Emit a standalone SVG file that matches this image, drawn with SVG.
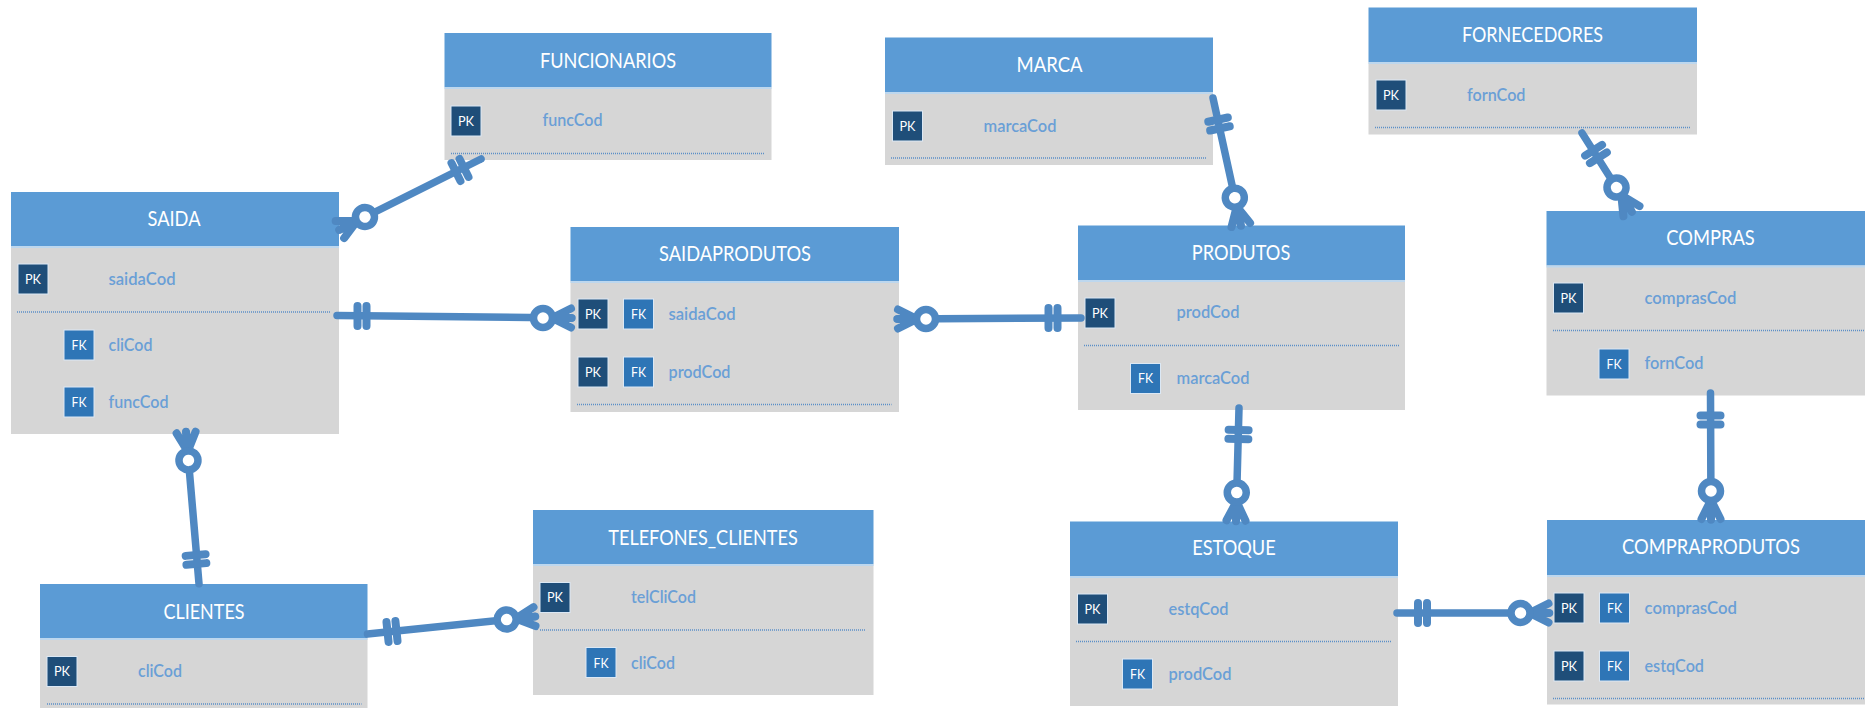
<svg xmlns="http://www.w3.org/2000/svg" width="1865" height="708" viewBox="0 0 1865 708">
<style>
.b{fill:#d6d6d6}
.h{fill:#5b9bd5}
.s{stroke:#bdd7ee;stroke-width:2;fill:none}
.d{stroke:#5b8fc7;stroke-width:1.5;stroke-dasharray:1 1;fill:none}
.pk{fill:#1f4e79;stroke:#dbe8f5;stroke-width:1}
.fk{fill:#2e75b6;stroke:#dbe8f5;stroke-width:1}
.bt{font:14px Lato,"Liberation Sans",sans-serif;fill:#fff;text-anchor:middle;dominant-baseline:central}
.t{font:21px Lato,"Liberation Sans",sans-serif;fill:#fff;text-anchor:middle;dominant-baseline:central}
.f{font:600 17px Lato,"Liberation Sans",sans-serif;fill:#6a9fd6;dominant-baseline:central}
.c{stroke:#4f88c2;stroke-width:7.5;fill:none;stroke-linecap:round}
</style>
<defs>
<g id="crow"><path d="M1,-9.5 L20,0 M1,0 L20,0 M1,9.5 L20,0" style="stroke-width:8"/><circle cx="29" cy="0" r="9.5" fill="#fff" style="stroke-width:7.5"/></g>
<g id="bars"><path d="M-4.5,-10 V10 M4.5,-10 V10" style="stroke-width:8"/></g>
</defs>
<g id="funcionarios">
<rect class="b" x="444.5" y="87" width="327" height="73"/><rect class="h" x="444.5" y="33" width="327" height="54"/><path class="s" d="M444.5,88H771.5"/>
<text class="t" x="608" y="59" textLength="136" lengthAdjust="spacingAndGlyphs">FUNCIONARIOS</text>
<rect class="pk" x="451" y="106" width="30" height="30"/><text class="bt" x="466" y="120" textLength="16" lengthAdjust="spacingAndGlyphs">PK</text>
<text class="f" x="542.5" y="119.5" textLength="60" lengthAdjust="spacingAndGlyphs">funcCod</text>
<path class="d" d="M451,153.5H764"/>
</g>
<g id="saida">
<rect class="b" x="11" y="246" width="328" height="188"/><rect class="h" x="11" y="192" width="328" height="54"/><path class="s" d="M11,247H339"/>
<text class="t" x="174" y="217.5" textLength="53" lengthAdjust="spacingAndGlyphs">SAIDA</text>
<rect class="pk" x="18" y="264" width="30" height="30"/><text class="bt" x="33" y="278.5" textLength="16" lengthAdjust="spacingAndGlyphs">PK</text>
<text class="f" x="108.5" y="278" textLength="67" lengthAdjust="spacingAndGlyphs">saidaCod</text>
<path class="d" d="M17,312H331"/>
<rect class="fk" x="64" y="330" width="30" height="30"/><text class="bt" x="79" y="344" textLength="15" lengthAdjust="spacingAndGlyphs">FK</text>
<text class="f" x="108.5" y="344" textLength="44" lengthAdjust="spacingAndGlyphs">cliCod</text>
<rect class="fk" x="64" y="387" width="30" height="30"/><text class="bt" x="79" y="401.5" textLength="15" lengthAdjust="spacingAndGlyphs">FK</text>
<text class="f" x="108.5" y="401.5" textLength="60" lengthAdjust="spacingAndGlyphs">funcCod</text>
</g>
<g id="saidaprodutos">
<rect class="b" x="570.5" y="281" width="328.5" height="131"/><rect class="h" x="570.5" y="227" width="328.5" height="54"/><path class="s" d="M570.5,282H899"/>
<text class="t" x="735" y="252.5" textLength="152" lengthAdjust="spacingAndGlyphs">SAIDAPRODUTOS</text>
<rect class="pk" x="578" y="299" width="30" height="30"/><text class="bt" x="593" y="313" textLength="16" lengthAdjust="spacingAndGlyphs">PK</text>
<rect class="fk" x="623.5" y="299" width="30" height="30"/><text class="bt" x="638.5" y="313" textLength="15" lengthAdjust="spacingAndGlyphs">FK</text>
<text class="f" x="668.5" y="313" textLength="67" lengthAdjust="spacingAndGlyphs">saidaCod</text>
<rect class="pk" x="578" y="357" width="30" height="30"/><text class="bt" x="593" y="371" textLength="16" lengthAdjust="spacingAndGlyphs">PK</text>
<rect class="fk" x="623.5" y="357" width="30" height="30"/><text class="bt" x="638.5" y="371" textLength="15" lengthAdjust="spacingAndGlyphs">FK</text>
<text class="f" x="668.5" y="371" textLength="62" lengthAdjust="spacingAndGlyphs">prodCod</text>
<path class="d" d="M577,404.5H891.5"/>
</g>
<g id="marca">
<rect class="b" x="885" y="92" width="328" height="73"/><rect class="h" x="885" y="37.5" width="328" height="54.5"/><path class="s" d="M885,93H1213"/>
<text class="t" x="1049.5" y="63" textLength="66" lengthAdjust="spacingAndGlyphs">MARCA</text>
<rect class="pk" x="892.5" y="111" width="30" height="30"/><text class="bt" x="907.5" y="125" textLength="16" lengthAdjust="spacingAndGlyphs">PK</text>
<text class="f" x="983.5" y="125" textLength="73" lengthAdjust="spacingAndGlyphs">marcaCod</text>
<path class="d" d="M891,158H1206.5"/>
</g>
<g id="fornecedores">
<rect class="b" x="1368.5" y="62" width="328.5" height="72.5"/><rect class="h" x="1368.5" y="7.5" width="328.5" height="54.5"/><path class="s" d="M1368.5,63H1697"/>
<text class="t" x="1532.5" y="33.5" textLength="141" lengthAdjust="spacingAndGlyphs">FORNECEDORES</text>
<rect class="pk" x="1376" y="80" width="30" height="30"/><text class="bt" x="1391" y="94" textLength="16" lengthAdjust="spacingAndGlyphs">PK</text>
<text class="f" x="1467" y="94" textLength="58.5" lengthAdjust="spacingAndGlyphs">fornCod</text>
<path class="d" d="M1375,127.5H1690"/>
</g>
<g id="produtos">
<rect class="b" x="1078" y="280" width="327" height="130"/><rect class="h" x="1078" y="225.5" width="327" height="54.5"/><path class="s" d="M1078,281H1405"/>
<text class="t" x="1241" y="251" textLength="98.5" lengthAdjust="spacingAndGlyphs">PRODUTOS</text>
<rect class="pk" x="1085" y="298" width="30" height="30"/><text class="bt" x="1100" y="312" textLength="16" lengthAdjust="spacingAndGlyphs">PK</text>
<text class="f" x="1176.5" y="311.5" textLength="63" lengthAdjust="spacingAndGlyphs">prodCod</text>
<path class="d" d="M1084,345.5H1399"/>
<rect class="fk" x="1130.5" y="363.5" width="30" height="30"/><text class="bt" x="1145.5" y="377.5" textLength="15" lengthAdjust="spacingAndGlyphs">FK</text>
<text class="f" x="1176.5" y="377" textLength="73" lengthAdjust="spacingAndGlyphs">marcaCod</text>
</g>
<g id="compras">
<rect class="b" x="1546.5" y="265.5" width="328" height="130"/><rect class="h" x="1546.5" y="211" width="328" height="54.5"/><path class="s" d="M1546.5,266.5H1874"/>
<text class="t" x="1710.5" y="236.5" textLength="88.5" lengthAdjust="spacingAndGlyphs">COMPRAS</text>
<rect class="pk" x="1553.5" y="283" width="30" height="30"/><text class="bt" x="1568.5" y="297" textLength="16" lengthAdjust="spacingAndGlyphs">PK</text>
<text class="f" x="1644.5" y="297" textLength="92" lengthAdjust="spacingAndGlyphs">comprasCod</text>
<path class="d" d="M1553,330.5H1865"/>
<rect class="fk" x="1599" y="349" width="30" height="30"/><text class="bt" x="1614" y="363" textLength="15" lengthAdjust="spacingAndGlyphs">FK</text>
<text class="f" x="1644.5" y="362.5" textLength="59" lengthAdjust="spacingAndGlyphs">fornCod</text>
</g>
<g id="clientes">
<rect class="b" x="40" y="638" width="327.5" height="70"/><rect class="h" x="40" y="584" width="327.5" height="54"/><path class="s" d="M40,639H367.5"/>
<text class="t" x="204" y="610" textLength="81" lengthAdjust="spacingAndGlyphs">CLIENTES</text>
<rect class="pk" x="47" y="656.5" width="30" height="30"/><text class="bt" x="62" y="670.5" textLength="16" lengthAdjust="spacingAndGlyphs">PK</text>
<text class="f" x="138" y="670.5" textLength="44" lengthAdjust="spacingAndGlyphs">cliCod</text>
<path class="d" d="M47,704H361.5"/>
</g>
<g id="telefones_clientes">
<rect class="b" x="533" y="564" width="340.5" height="131"/><rect class="h" x="533" y="510" width="340.5" height="54"/><path class="s" d="M533,565H873.5"/>
<text class="t" x="703" y="536" textLength="189.5" lengthAdjust="spacingAndGlyphs">TELEFONES_CLIENTES</text>
<rect class="pk" x="540" y="582.5" width="30" height="30"/><text class="bt" x="555" y="596.5" textLength="16" lengthAdjust="spacingAndGlyphs">PK</text>
<text class="f" x="631" y="596.5" textLength="65" lengthAdjust="spacingAndGlyphs">telCliCod</text>
<path class="d" d="M540,630H866"/>
<rect class="fk" x="586" y="647.5" width="30" height="30"/><text class="bt" x="601" y="662" textLength="15" lengthAdjust="spacingAndGlyphs">FK</text>
<text class="f" x="631" y="662.5" textLength="44" lengthAdjust="spacingAndGlyphs">cliCod</text>
</g>
<g id="estoque">
<rect class="b" x="1070" y="576" width="328" height="130"/><rect class="h" x="1070" y="521.5" width="328" height="54.5"/><path class="s" d="M1070,577H1398"/>
<text class="t" x="1234" y="546.5" textLength="83.5" lengthAdjust="spacingAndGlyphs">ESTOQUE</text>
<rect class="pk" x="1077.5" y="594" width="30" height="30"/><text class="bt" x="1092.5" y="608" textLength="16" lengthAdjust="spacingAndGlyphs">PK</text>
<text class="f" x="1168.5" y="608.5" textLength="60" lengthAdjust="spacingAndGlyphs">estqCod</text>
<path class="d" d="M1076,641.5H1391"/>
<rect class="fk" x="1122.5" y="659" width="30" height="30"/><text class="bt" x="1137.5" y="673" textLength="15" lengthAdjust="spacingAndGlyphs">FK</text>
<text class="f" x="1168.5" y="673" textLength="63" lengthAdjust="spacingAndGlyphs">prodCod</text>
</g>
<g id="compraprodutos">
<rect class="b" x="1547" y="575" width="328" height="129.5"/><rect class="h" x="1547" y="520" width="328" height="55"/><path class="s" d="M1547,576H1875"/>
<text class="t" x="1711" y="545" textLength="178" lengthAdjust="spacingAndGlyphs">COMPRAPRODUTOS</text>
<rect class="pk" x="1554" y="593" width="30" height="30"/><text class="bt" x="1569" y="607" textLength="16" lengthAdjust="spacingAndGlyphs">PK</text>
<rect class="fk" x="1599.5" y="593" width="30" height="30"/><text class="bt" x="1614.5" y="607" textLength="15" lengthAdjust="spacingAndGlyphs">FK</text>
<text class="f" x="1644.5" y="607.5" textLength="92.5" lengthAdjust="spacingAndGlyphs">comprasCod</text>
<rect class="pk" x="1554" y="651" width="30" height="30"/><text class="bt" x="1569" y="665" textLength="16" lengthAdjust="spacingAndGlyphs">PK</text>
<rect class="fk" x="1599.5" y="651" width="30" height="30"/><text class="bt" x="1614.5" y="665" textLength="15" lengthAdjust="spacingAndGlyphs">FK</text>
<text class="f" x="1644.5" y="665" textLength="59.5" lengthAdjust="spacingAndGlyphs">estqCod</text>
<path class="d" d="M1553,698.5H1865"/>
</g>
<g id="connectors" class="c">
<path d="M339,230L481,159"/><use href="#crow" transform="translate(339,230) rotate(-26.6)"/><use href="#bars" transform="translate(460,170) rotate(-26.6)"/>
<path d="M337,315.5L572,318"/><use href="#crow" transform="translate(572,318) rotate(180)"/><use href="#bars" transform="translate(362,316)"/>
<path d="M897,319L1081,318"/><use href="#crow" transform="translate(897,319)"/><use href="#bars" transform="translate(1053,318)"/>
<path d="M1213,98L1241,226"/><use href="#crow" transform="translate(1241,226) rotate(-102.3)"/><use href="#bars" transform="translate(1219,124) rotate(77.7)"/>
<path d="M1582,133L1632,212"/><use href="#crow" transform="translate(1632,212) rotate(-122.3)"/><use href="#bars" transform="translate(1596,154) rotate(57.7)"/>
<path d="M1239,408L1236,521.5"/><use href="#crow" transform="translate(1236,521.5) rotate(-88.5)"/><use href="#bars" transform="translate(1238.5,434.5) rotate(-88.5)"/>
<path d="M1710.5,393L1711,520"/><use href="#crow" transform="translate(1711,520) rotate(-90)"/><use href="#bars" transform="translate(1710.5,420) rotate(90)"/>
<path d="M1397,613H1549.5"/><use href="#crow" transform="translate(1549.5,613) rotate(180)"/><use href="#bars" transform="translate(1422.5,613)"/>
<path d="M186,431.5L199,583.7"/><use href="#crow" transform="translate(186,431.5) rotate(85.1)"/><use href="#bars" transform="translate(196,559.5) rotate(85.1)"/>
<path d="M367.5,634L535.5,616.5"/><use href="#crow" transform="translate(535.5,616.5) rotate(174)"/><use href="#bars" transform="translate(392,631.5) rotate(-6)"/>
</g>
</svg>
